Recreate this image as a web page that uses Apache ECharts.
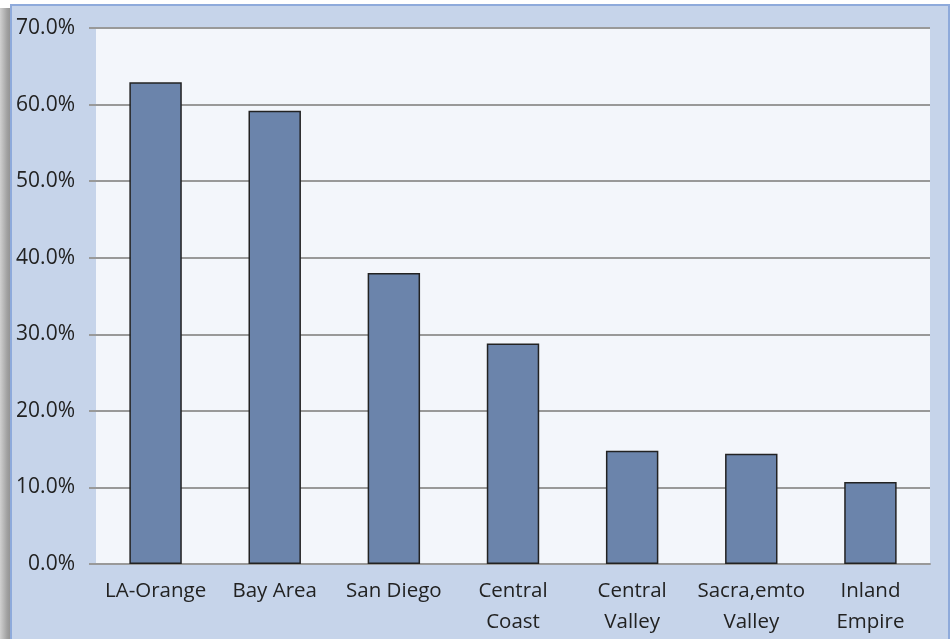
<!DOCTYPE html>
<html>
<head>
<meta charset="utf-8">
<script src="https://cdn.jsdelivr.net/npm/echarts@6/dist/echarts.min.js"></script>
<style>
html,body{margin:0;padding:0;background:#ffffff;}
#c{width:951px;height:639px;}
</style>
</head>
<body>
<div id="c"></div>
<script>
const categories = ['LA-Orange', 'Bay Area', 'San Diego', 'Central\nCoast', 'Central\nValley', 'Sacra,emto\nValley', 'Inland\nEmpire'];
const values = [62.9, 59.2, 38.0, 28.8, 14.8, 14.4, 10.7];
const yTicks = { min: 0, max: 70, interval: 10 };

const chart = echarts.init(document.getElementById('c'), null, { renderer: 'canvas' });
const FONT = 'Open Sans';
chart.setOption({
  animation: false,
  graphic: [
    {
      type: 'rect', z: -10, silent: true,
      shape: { x: 0, y: 8, width: 12, height: 640 },
      style: {
        fill: new echarts.graphic.LinearGradient(0, 0, 1, 0, [
          { offset: 0, color: '#d0d0d0' },
          { offset: 0.6, color: '#a0a0a0' },
          { offset: 1, color: '#8c8c8c' }
        ])
      }
    },
    {
      type: 'rect', z: -9, silent: true,
      shape: { x: 11, y: 5, width: 938, height: 640 },
      style: { fill: '#c6d4ea', stroke: '#8eaadb', lineWidth: 2 }
    }
  ],
  grid: {
    left: 96, right: 21, top: 28, bottom: 75,
    show: true, backgroundColor: '#f3f6fb', borderWidth: 0
  },
  xAxis: {
    type: 'category',
    data: categories,
    axisLine: { show: true, lineStyle: { color: '#999999', width: 2 } },
    axisTick: { show: false },
    axisLabel: {
      color: '#222222', fontFamily: FONT, fontSize: 20.5, lineHeight: 31,
      margin: 12, interval: 0
    }
  },
  yAxis: {
    type: 'value',
    min: yTicks.min, max: yTicks.max, interval: yTicks.interval,
    axisLine: { show: false },
    axisTick: { show: true, length: 7, lineStyle: { color: '#999999', width: 2 } },
    splitLine: { show: true, lineStyle: { color: '#999999', width: 2 } },
    axisLabel: {
      color: '#222222', fontFamily: FONT, fontSize: 21, margin: 21,
      formatter: v => v.toFixed(1) + '%'
    }
  },
  series: [{
    type: 'bar',
    data: values,
    barWidth: '44%',
    itemStyle: { color: '#6b84ab', borderColor: '#222222', borderWidth: 1.5 }
  }]
});
</script>
</body>
</html>
